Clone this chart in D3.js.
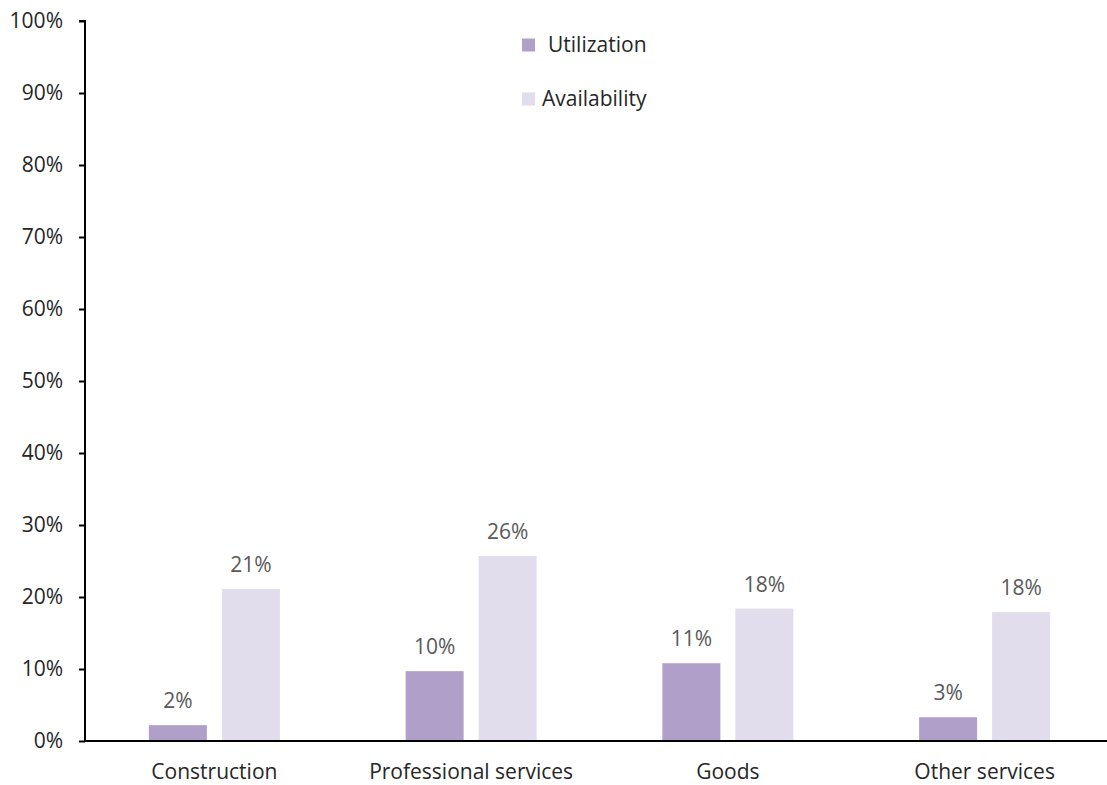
<!DOCTYPE html>
<html>
<head>
<meta charset="utf-8">
<script src="https://cdn.jsdelivr.net/npm/d3@7"></script>
<style>
  html, body { margin: 0; padding: 0; background: #fff; }
  svg { display: block; font-family: "Open Sans", sans-serif; }
</style>
</head>
<body>
<svg id="chart" width="1107" height="785"></svg>
<script>
// Share of spend by category
const categories = ["Construction", "Professional services", "Goods", "Other services"];
const seriesNames = ["Utilization", "Availability"];
const utilization = [0.022, 0.097, 0.108, 0.033];
const availability = [0.211, 0.257, 0.184, 0.179];
const yTicks = [0, 0.1, 0.2, 0.3, 0.4, 0.5, 0.6, 0.7, 0.8, 0.9, 1.0];
const colors = ["#b09fc9", "#e1ddec"];

const svg = d3.select("#chart");
const margin = { left: 85, top: 21, bottom: 741 };
const font = "'Open Sans', sans-serif";
const fs = "21px";

const x = d3.scaleBand().domain(categories).range([86, 1113]).paddingInner(0).paddingOuter(0);
const y = d3.scaleLinear().domain([0, 1]).range([741, 21]);

const barW = 58, gap = 15;
const fmt = d3.format(".0%");

// Y axis
const yAxis = d3.axisLeft(y).tickValues(yTicks).tickFormat(fmt).tickSize(6).tickPadding(16);
const gy = svg.append("g").attr("transform", `translate(${margin.left},0)`).call(yAxis);
gy.select(".domain").attr("stroke", "#000").attr("stroke-width", 2).attr("d", "M-6,21H0V741");
gy.selectAll(".tick line").attr("stroke", "#000").attr("stroke-width", 2);
gy.selectAll(".tick text").attr("fill", "#262626").style("font-size", fs).style("font-family", font);

// Bars
const data = categories.map((c, i) => ({ c, vals: [utilization[i], availability[i]] }));
const groups = svg.append("g").selectAll("g").data(data).join("g")
  .attr("transform", d => `translate(${x(d.c) + x.bandwidth() / 2},0)`);

groups.selectAll("rect").data(d => d.vals).join("rect")
  .attr("x", (v, j) => j === 0 ? -(barW + gap / 2) : gap / 2)
  .attr("y", v => y(v))
  .attr("width", barW)
  .attr("height", v => y(0) - y(v))
  .attr("fill", (v, j) => colors[j]);

groups.selectAll("text.val").data(d => d.vals).join("text")
  .attr("class", "val")
  .attr("x", (v, j) => j === 0 ? -(barW / 2 + gap / 2) : barW / 2 + gap / 2)
  .attr("y", v => y(v) - 17)
  .attr("text-anchor", "middle")
  .attr("fill", "#595959")
  .style("font-size", fs)
  .text(v => fmt(v));

// X axis
const xAxis = d3.axisBottom(x).tickSize(0).tickPadding(23);
const gx = svg.append("g").attr("transform", `translate(0,${margin.bottom})`).call(xAxis);
gx.select(".domain").attr("stroke", "#000").attr("stroke-width", 2).attr("d", "M85,0H1107");
gx.selectAll(".tick text").attr("fill", "#262626").style("font-size", fs).style("font-family", font);

// Legend
const legend = svg.append("g");
const legendItems = [
  { name: seriesNames[0], color: colors[0], y: 45, tx: 548 },
  { name: seriesNames[1], color: colors[1], y: 99, tx: 542 }
];
legendItems.forEach(it => {
  legend.append("rect").attr("x", 522).attr("y", it.y - 6.5).attr("width", 13).attr("height", 13).attr("fill", it.color);
  legend.append("text").attr("x", it.tx).attr("y", it.y).attr("dy", "0.35em")
    .attr("fill", "#262626").style("font-size", fs).text(it.name);
});
</script>
</body>
</html>
